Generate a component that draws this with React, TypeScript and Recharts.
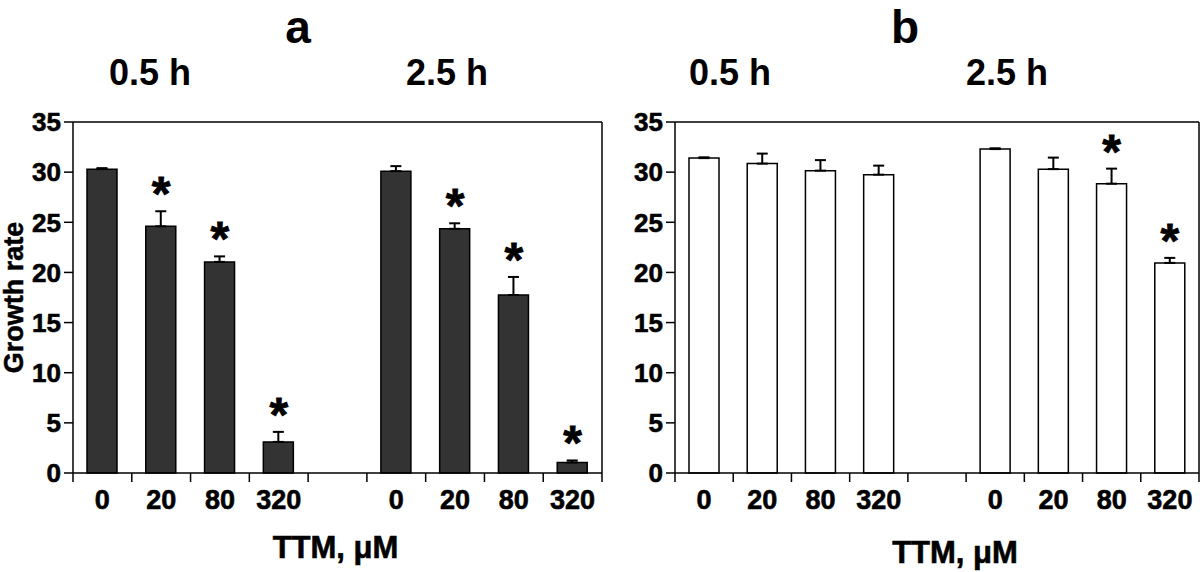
import React from "react";
import {
  ComposedChart,
  Bar,
  ErrorBar,
  Scatter,
  XAxis,
  YAxis,
  ReferenceLine,
  Label,
} from "recharts";

const FONT = "'Liberation Sans', Arial, Helvetica, sans-serif";

// 9 slots: 0.5 h doses, one empty slot, 2.5 h doses
const slotKeys = ["h05-0", "h05-20", "h05-80", "h05-320", "gap", "h25-0", "h25-20", "h25-80", "h25-320"];
const doseLabels = ["0", "20", "80", "320", "", "0", "20", "80", "320"];
const yTicks = [0, 5, 10, 15, 20, 25, 30, 35];

// panel a (dark bars)
const aMean = [30.3, 24.6, 21.05, 3.1, null, 30.1, 24.35, 17.75, 1.05];
const aErr = [0.1, 1.5, 0.55, 1.0, null, 0.5, 0.55, 1.8, 0.2];
const aSig = [false, true, true, true, false, false, true, true, true];

// panel b (white bars)
const bMean = [31.4, 30.85, 30.15, 29.75, null, 32.3, 30.3, 28.85, 20.95];
const bErr = [0.08, 1.0, 1.05, 0.9, null, 0.08, 1.15, 1.5, 0.5];
const bSig = [false, false, false, false, false, false, false, true, true];

const buildRows = (mean: (number | null)[], err: (number | null)[], sig: boolean[]) =>
  slotKeys.map((key, i) => ({
    key,
    mean: mean[i],
    err: err[i] == null ? null : [0, err[i]],
    star: sig[i] && mean[i] != null ? (mean[i] as number) + (err[i] as number) : null,
  }));

const rowsA = buildRows(aMean, aErr, aSig);
const rowsB = buildRows(bMean, bErr, bSig);

function DoseTick(props: any) {
  const { x, y, payload, slot } = props;
  const i = slotKeys.indexOf(payload.value);
  const left = x - slot / 2;
  return (
    <g>
      <line x1={left} x2={left} y1={y} y2={y + 9} stroke="#000" strokeWidth={1.5} />
      {i === slotKeys.length - 1 && (
        <line x1={x + slot / 2} x2={x + slot / 2} y1={y} y2={y + 9} stroke="#000" strokeWidth={1.5} />
      )}
      <text
        x={x}
        y={y + 36}
        textAnchor="middle"
        fontFamily={FONT}
        fontWeight="bold"
        fontSize={27}
        fill="#000"
        stroke="#000"
        strokeWidth={0.6}
      >
        {doseLabels[i]}
      </text>
    </g>
  );
}

function Star(props: any) {
  const { cx, cy } = props;
  if (cy == null || Number.isNaN(cy)) return <g />;
  return (
    <text
      x={cx}
      y={cy - 1}
      textAnchor="middle"
      fontFamily={FONT}
      fontWeight="bold"
      fontSize={48}
      fill="#000"
      stroke="#000"
      strokeWidth={0.8}
    >
      *
    </text>
  );
}

type PanelProps = {
  rows: any[];
  fill: string;
  left: number;
  width: number;
  yWidth: number;
  right: number;
  showYLabel: boolean;
  labelDx: number;
  labelDy: number;
};

function Panel({ rows, fill, left, width, yWidth, right, showYLabel, labelDx, labelDy }: PanelProps) {
  const slot = (width - yWidth - right) / slotKeys.length;
  return (
    <div style={{ position: "absolute", left, top: 0 }}>
      <ComposedChart width={width} height={572} data={rows} margin={{ top: 122, right, bottom: 39, left: 0 }}>
        <XAxis
          dataKey="key"
          interval={0}
          height={60}
          tickLine={false}
          tickSize={0}
          tickMargin={0}
          axisLine={{ stroke: "#000", strokeWidth: 1.5 }}
          tick={(p: any) => <DoseTick {...p} slot={slot} />}
        >
          <Label
            content={({ viewBox }: any) => (
              <text
                x={viewBox.x + viewBox.width / 2 + labelDx}
                y={viewBox.y + 85 + labelDy}
                textAnchor="middle"
                fontFamily={FONT}
                fontWeight="bold"
                fontSize={31}
                fill="#000"
                stroke="#000"
                strokeWidth={0.6}
              >
                TTM, μM
              </text>
            )}
          />
        </XAxis>
        <YAxis
          width={yWidth}
          domain={[0, 35]}
          ticks={yTicks}
          interval={0}
          tickSize={9}
          tickMargin={3}
          axisLine={{ stroke: "#000", strokeWidth: 1.5 }}
          tickLine={{ stroke: "#000", strokeWidth: 1.5 }}
          tick={{ fill: "#000", stroke: "#000", strokeWidth: 0.6, fontSize: 26, fontWeight: "bold", fontFamily: FONT }}
        >
          {showYLabel && (
            <Label
              content={({ viewBox }: any) => {
                const cx = 14;
                const cy = viewBox.y + viewBox.height / 2;
                return (
                  <text
                    x={cx}
                    y={cy}
                    transform={`rotate(-90 ${cx} ${cy})`}
                    textAnchor="middle"
                    dominantBaseline="central"
                    fontFamily={FONT}
                    fontWeight="bold"
                    fontSize={27}
                    fill="#000"
                    stroke="#000"
                    strokeWidth={0.5}
                  >
                    Growth rate
                  </text>
                );
              }}
            />
          )}
        </YAxis>
        <ReferenceLine y={35} stroke="#000" strokeWidth={1.5} />
        <ReferenceLine x={slotKeys[slotKeys.length - 1]} position="end" stroke="#000" strokeWidth={1.5} />
        <Bar dataKey="mean" fill={fill} stroke="#000" strokeWidth={1.5} barSize={30} isAnimationActive={false}>
          <ErrorBar dataKey="err" width={5.5} stroke="#000" strokeWidth={2} direction="y" />
        </Bar>
        <Scatter dataKey="star" shape={<Star />} isAnimationActive={false} />
      </ComposedChart>
    </div>
  );
}

const titleStyle = { fontFamily: FONT, fontWeight: "bold" as const, fill: "#000" };

export default function App() {
  return (
    <div style={{ position: "absolute", left: 0, top: 0, width: 1200, height: 572, background: "#fff" }}>
      <Panel rows={rowsA} fill="#333333" left={0} width={606} yWidth={73} right={4} showYLabel labelDx={-2} labelDy={0} />
      <Panel rows={rowsB} fill="#ffffff" left={606} width={594} yWidth={69} right={1} showYLabel={false} labelDx={18} labelDy={5} />
      <svg width={1200} height={110} style={{ position: "absolute", left: 0, top: 0, pointerEvents: "none" }}>
        <text x={298} y={43} textAnchor="middle" fontSize={46} {...titleStyle}>a</text>
        <text x={150} y={85} textAnchor="middle" fontSize={36} {...titleStyle}>0.5 h</text>
        <text x={447} y={85} textAnchor="middle" fontSize={36} {...titleStyle}>2.5 h</text>
        <text x={905} y={43} textAnchor="middle" fontSize={46} {...titleStyle}>b</text>
        <text x={730} y={85} textAnchor="middle" fontSize={36} {...titleStyle}>0.5 h</text>
        <text x={1007} y={85} textAnchor="middle" fontSize={36} {...titleStyle}>2.5 h</text>
      </svg>
    </div>
  );
}
